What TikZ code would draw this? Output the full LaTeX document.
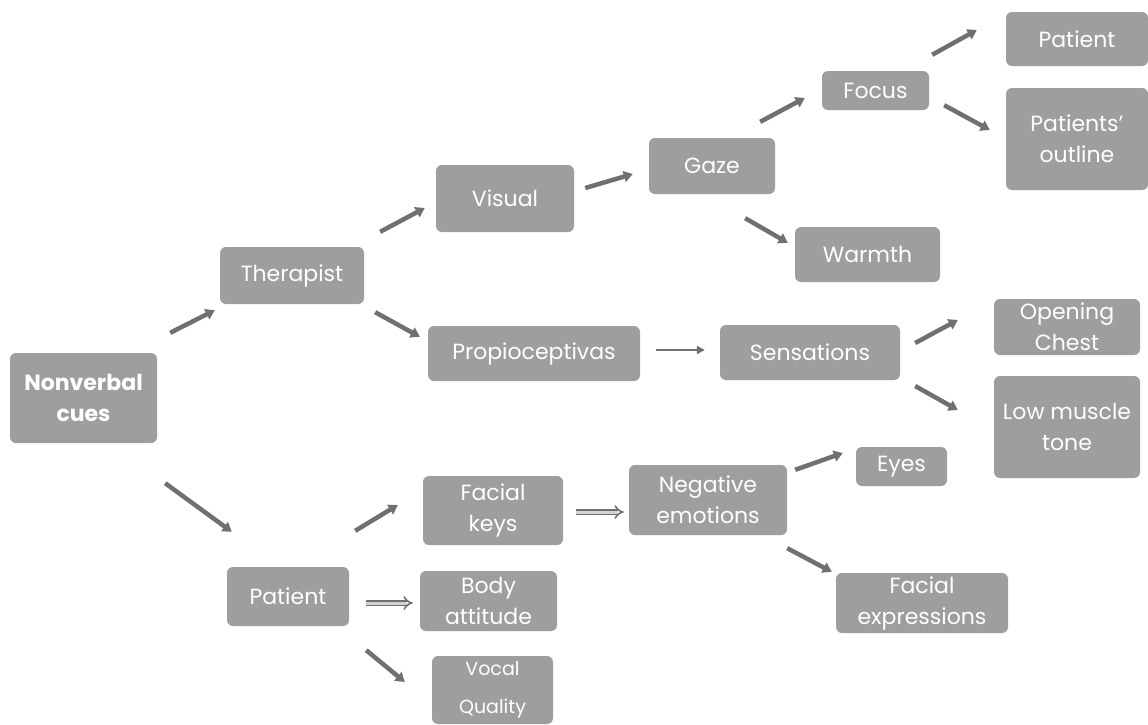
\documentclass[tikz,border=0pt]{standalone}
\usepackage{fontspec}
\setmainfont{Poppins}
\usetikzlibrary{arrows.meta}
\definecolor{boxgray}{RGB}{158,158,158}
\definecolor{arrowgray}{RGB}{112,112,112}
\tikzset{
  cue/.style={fill=boxgray, rounded corners=6pt, text=white, align=center,
    inner sep=0pt, font=\fontsize{22}{31}\selectfont},
  arr/.style={draw=arrowgray, line width=4.5pt, -{Triangle[length=9pt,width=11pt]}},
  thinarr/.style={draw=arrowgray, line width=2pt, -{Triangle[length=8pt,width=8pt]}},
  dblarr/.style={draw=arrowgray, line width=1.6pt, double=gray!35, double distance=3pt, -{Implies}},
}
\begin{document}
\begin{tikzpicture}[x=1pt, y=-1pt]
\useasboundingbox (0,0) rectangle (1148,724);
\fill[white] (0,0) rectangle (1148,724);

% boxes
\node[cue, minimum width=147pt, minimum height=90pt, font=\fontsize{22}{31}\selectfont\bfseries] (nv) at (83.5,398) {Nonverbal\\cues};
\node[cue, minimum width=144pt, minimum height=57pt] (th) at (292,275.5) {Therapist};
\node[cue, minimum width=138pt, minimum height=67pt] (vis) at (505,198.5) {Visual};
\node[cue, minimum width=126pt, minimum height=56pt] (gaze) at (712,166) {Gaze};
\node[cue, minimum width=107pt, minimum height=39pt] (focus) at (875.5,90.5) {Focus};
\node[cue, minimum width=142pt, minimum height=54pt] (pt1) at (1077,39) {Patient};
\node[cue, minimum width=142pt, minimum height=102pt] (pto) at (1077,139) {Patients'\\outline};
\node[cue, minimum width=145pt, minimum height=55pt] (warm) at (867.5,254.5) {Warmth};
\node[cue, minimum width=212pt, minimum height=55pt] (prop) at (534,353.5) {Propioceptivas};
\node[cue, minimum width=180pt, minimum height=55pt] (sens) at (810,352.5) {Sensations};
\node[cue, minimum width=146pt, minimum height=56pt] (open) at (1067,327) {Opening\\Chest};
\node[cue, minimum width=146pt, minimum height=102pt] (low) at (1067,427) {Low muscle\\tone};
\node[cue, minimum width=91pt, minimum height=39pt] (eyes) at (901.5,466.5) {Eyes};
\node[cue, minimum width=158pt, minimum height=70pt] (neg) at (708,500) {Negative\\emotions};
\node[cue, minimum width=140pt, minimum height=69pt] (fk) at (493,510.5) {Facial\\keys};
\node[cue, minimum width=122pt, minimum height=59pt] (pt2) at (288,596.5) {Patient};
\node[cue, minimum width=137pt, minimum height=60pt] (body) at (488.5,601) {Body\\attitude};
\node[cue, minimum width=121pt, minimum height=68pt, font=\fontsize{19}{38}\selectfont] (vocal) at (492.5,690) {Vocal\\Quality};
\node[cue, minimum width=172pt, minimum height=60pt] (fe) at (922,603) {Facial\\expressions};

% connectors
\draw[arr] ([shift={(13,-20)}]nv.north east) -- ([shift={(-5,6)}]th.south west);
\draw[arr] ([shift={(8,40)}]nv.south east) -- ([shift={(5,-35)}]pt2.north west);
\draw[arr] ([shift={(16,-15)}]th.north east) -- ([shift={(-11,9.5)}]vis.west);
\draw[arr] ([shift={(11,8)}]th.south east) -- ([shift={(-8,11)}]prop.north west);
\draw[arr] ([shift={(11,-10.5)}]vis.east) -- ([shift={(-16,8)}]gaze.west);
\draw[arr] ([shift={(-15,-16)}]gaze.north east) -- ([shift={(-17,7.5)}]focus.west);
\draw[arr] ([shift={(-30,24)}]gaze.south east) -- ([shift={(-7,16)}]warm.north west);
\draw[arr] ([shift={(3,-16)}]focus.north east) -- ([shift={(-29,-9)}]pt1.west);
\draw[arr] ([shift={(15,-5)}]focus.south east) -- ([shift={(-16,-9)}]pto.west);
\draw[thinarr] ([shift={(16,-3.5)}]prop.east) -- ([shift={(-15,-2.5)}]sens.west);
\draw[arr] ([shift={(15,-9.5)}]sens.east) -- ([shift={(-36,-7)}]open.west);
\draw[arr] ([shift={(15,33.5)}]sens.east) -- ([shift={(-36,-17)}]low.west);
\draw[arr] ([shift={(6,-36)}]pt2.north east) -- ([shift={(-25,-5.5)}]fk.west);
\draw[dblarr] ([shift={(13,1.5)}]fk.east) -- ([shift={(-5,12)}]neg.west);
\draw[dblarr] ([shift={(17,6.5)}]pt2.east) -- ([shift={(-7,2)}]body.west);
\draw[arr] ([shift={(17,24)}]pt2.south east) -- ([shift={(-27,-8)}]vocal.west);
\draw[arr] ([shift={(8,5)}]neg.north east) -- ([shift={(-13,-13.5)}]eyes.west);
\draw[arr] ([shift={(0,13)}]neg.south east) -- ([shift={(-4,-1)}]fe.north west);
\end{tikzpicture}
\end{document}
